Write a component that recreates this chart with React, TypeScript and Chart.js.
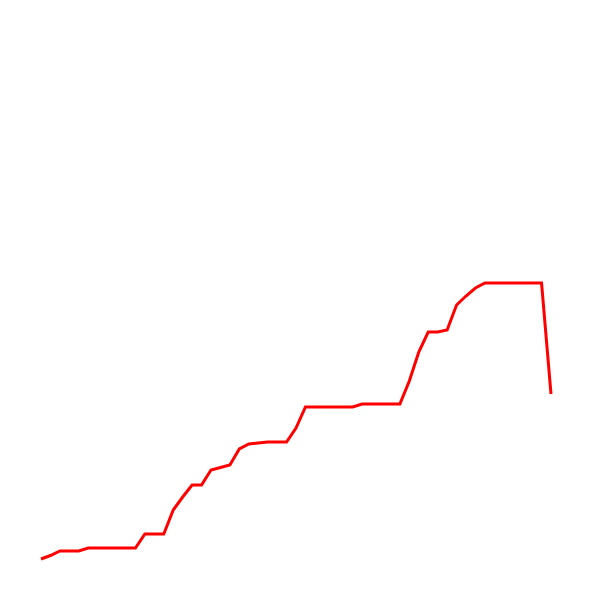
import React, { useEffect, useRef } from "react";
import { Chart, registerables } from "chart.js";

Chart.register(...registerables);

const labels: string[] = Array.from({ length: 55 }, (_, i) => String(i + 1));

const values: number[] = [
  33, 36.5, 41, 41, 41,
  44, 44, 44, 44, 44, 44,
  58, 58, 58,
  82, 95, 107, 107,
  122, 124.5, 127,
  143, 148, 149,
  150, 150, 150,
  164,
  185, 185, 185, 185, 185, 185,
  188, 188, 188, 188, 188,
  211, 240, 260, 260,
  262, 287, 296, 304,
  309, 309, 309, 309, 309, 309, 309,
  198,
];

const yMin = 0;
const yMax = 584;

export default function App() {
  const ref = useRef<HTMLCanvasElement | null>(null);
  useEffect(() => {
    if (!ref.current) return;
    const chart = new Chart(ref.current, {
      type: "line",
      data: {
        labels,
        datasets: [
          {
            data: values,
            borderColor: "#ff0000",
            backgroundColor: "#ff0000",
            borderWidth: 3,
            pointRadius: 0,
            tension: 0,
            fill: false,
            clip: false as any,
          },
        ],
      },
      options: {
        animation: false,
        responsive: true,
        maintainAspectRatio: false,
        layout: { padding: { left: 33, right: 41, top: 0, bottom: 0 } },
        plugins: { legend: { display: false }, tooltip: { enabled: false } },
        scales: {
          x: { display: false, offset: false },
          y: { display: false, min: yMin, max: yMax },
        },
      },
    });
    return () => chart.destroy();
  }, []);
  return (
    <div style={{ width: 584, height: 584, position: "relative" }}>
      <canvas ref={ref} />
    </div>
  );
}
